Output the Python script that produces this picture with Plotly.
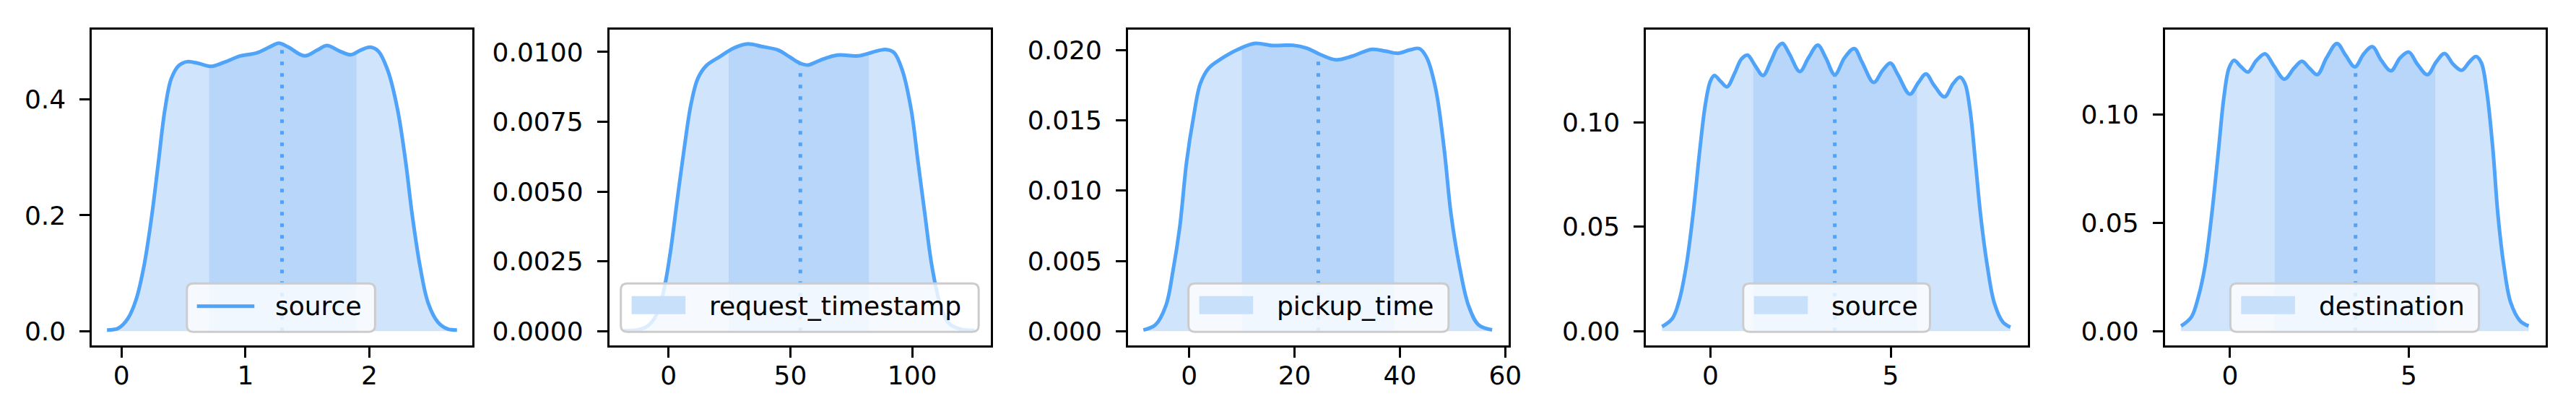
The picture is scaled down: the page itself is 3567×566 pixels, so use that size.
import plotly.graph_objects as go
import numpy as np

# ---------------- data ----------------
names = ["source", "request_timestamp", "pickup_time", "source", "destination"]

p1_x = [-0.117, -0.026, 0.052, 0.117, 0.181, 0.246, 0.298, 0.350, 0.402, 0.466, 0.531, 0.622, 0.725,
        0.829, 0.959, 1.088, 1.192, 1.269, 1.347, 1.477, 1.580, 1.658, 1.762, 1.852, 1.930, 2.008,
        2.073, 2.150, 2.228, 2.293, 2.345, 2.409, 2.474, 2.552, 2.630, 2.707]
p1_y = [0.002, 0.005, 0.022, 0.054, 0.112, 0.202, 0.292, 0.382, 0.436, 0.459, 0.465, 0.462, 0.457,
        0.464, 0.475, 0.480, 0.490, 0.497, 0.490, 0.475, 0.485, 0.493, 0.483, 0.477, 0.485, 0.490,
        0.483, 0.449, 0.382, 0.292, 0.202, 0.112, 0.049, 0.016, 0.004, 0.002]
p1_q = [0.707, 1.896]
p1_mean = 1.295

p2_x = [-18.4, -12.7, -8.5, -4.9, -2.1, 0.7, 3.5, 6.4, 9.2, 12.0, 15.5, 21.2, 26.8, 32.5, 38.1, 45.2,
        49.4, 53.7, 57.2, 62.1, 69.2, 77.7, 83.3, 89.0, 92.5, 96.0, 99.6, 102.4, 105.2, 108.1, 111.6,
        115.1, 120.1, 125.7]
p2_y = [0.00002, 0.00005, 0.00019, 0.0006, 0.0014, 0.0028, 0.00466, 0.00653, 0.00812, 0.00905,
        0.00951, 0.00984, 0.01014, 0.01029, 0.01020, 0.01006, 0.00984, 0.00961, 0.00953, 0.00970,
        0.00989, 0.00986, 0.00998, 0.01009, 0.00998, 0.00933, 0.00793, 0.00606, 0.00420, 0.00233,
        0.00093, 0.00028, 0.00007, 0.00003]
p2_q = [24.7, 82.2]
p2_mean = 54.1

p3_x = [-8.7, -6.4, -4.4, -3.1, -1.8, -0.5, 0.8, 2.1, 3.7, 6.0, 9.3, 12.5, 15.8, 19.7, 22.3, 24.9,
        27.9, 30.8, 34.7, 37.3, 39.6, 41.9, 43.7, 45.1, 46.8, 48.4, 49.7, 51.3, 53.0, 54.9, 57.5]
p3_y = [0.00009, 0.00046, 0.00185, 0.00426, 0.0074, 0.01204, 0.01519, 0.01759, 0.0187, 0.01935,
        0.02004, 0.02046, 0.02031, 0.02033, 0.02013, 0.01967, 0.0193, 0.01954, 0.02004, 0.01991,
        0.01976, 0.0200, 0.02009, 0.01944, 0.01722, 0.01296, 0.00833, 0.00463, 0.00185, 0.00046,
        0.00009]
p3_q = [10.0, 38.9]
p3_mean = 24.5

p4_x = [-1.34, -1.05, -0.86, -0.67, -0.48, -0.29, -0.14, 0.0, 0.11, 0.29, 0.46, 0.67, 0.86, 1.03,
        1.24, 1.46, 1.67, 1.86, 2.00, 2.19, 2.48, 2.72, 2.98, 3.20, 3.45, 3.72, 3.99, 4.20, 4.53,
        4.77, 4.99, 5.20, 5.53, 5.77, 5.98, 6.20, 6.49, 6.73, 6.92, 7.06, 7.20, 7.35, 7.49, 7.68,
        7.87, 8.11, 8.32]
p4_y = [0.0022, 0.0062, 0.015, 0.0312, 0.0561, 0.0873, 0.1085, 0.1197, 0.1224, 0.1195, 0.117,
        0.1234, 0.1303, 0.1322, 0.1272, 0.1224, 0.129, 0.1359, 0.1378, 0.1328, 0.1243, 0.1309,
        0.1369, 0.1309, 0.1228, 0.1309, 0.1353, 0.129, 0.1191, 0.1247, 0.1284, 0.1228, 0.1135,
        0.1191, 0.1232, 0.1178, 0.1122, 0.1185, 0.1216, 0.1185, 0.106, 0.081, 0.0561, 0.0312,
        0.0137, 0.0044, 0.0019]
p4_q = [1.19, 5.73]
p4_mean = 3.45

p5_x = [-1.37, -1.08, -0.89, -0.70, -0.51, -0.32, -0.17, -0.03, 0.11, 0.31, 0.50, 0.74, 0.98, 1.22,
        1.52, 1.79, 2.01, 2.22, 2.44, 2.70, 2.99, 3.23, 3.49, 3.74, 3.98, 4.23, 4.50, 4.76, 5.00,
        5.24, 5.52, 5.77, 6.00, 6.24, 6.48, 6.70, 6.88, 7.03, 7.18, 7.35, 7.49, 7.66, 7.85, 8.11,
        8.35]
p5_y = [0.0024, 0.0066, 0.0156, 0.030, 0.0541, 0.0841, 0.1082, 0.1214, 0.125, 0.122, 0.1196, 0.125,
        0.128, 0.1226, 0.1163, 0.1214, 0.1246, 0.1214, 0.1184, 0.1262, 0.1328, 0.1274, 0.122, 0.128,
        0.1313, 0.125, 0.1202, 0.1262, 0.1288, 0.1232, 0.1184, 0.1244, 0.1282, 0.1232, 0.1204,
        0.1244, 0.1268, 0.1238, 0.1106, 0.0841, 0.0541, 0.030, 0.0132, 0.0048, 0.0024]
p5_q = [1.25, 5.74]
p5_mean = 3.51

# axis settings per panel
x_ranges = [[-0.238, 2.829], [-24.3, 132.3], [-11.6, 60.7], [-1.78, 8.80], [-1.82, 8.83]]
y_ranges = [[-0.0247, 0.5204], [-0.000513, 0.010802], [-0.001019, 0.021444],
            [-0.00686, 0.1444], [-0.0066, 0.1392]]
x_dticks = [1, 50, 20, 5, 5]
y_dticks = [0.2, 0.0025, 0.005, 0.05, 0.05]
y_formats = [".1f", ".4f", ".3f", ".2f", ".2f"]
legend_is_line = [True, False, False, False, False]

# ---------------- style / layout (pixels) ----------------
W, H = 3567, 566
LINE = "#4fa3f8"
LIGHT = "#d0e4fb"
DARK = "#b7d6f9"
PATCH = "#c9e0fa"
FONT = "DejaVu Sans"
FS = 36

box_px = [(120, 649), (840, 1371), (1562, 2092), (2283, 2814), (3005, 3535)]
top_px, bot_px = 33, 471
ydom = [1 - bot_px / H, 1 - top_px / H]
# legend boxes (left, right) in px, shared top / bottom
leg_px = [(252, 514), (856, 1354), (1646, 2008), (2418, 2678), (3096, 3442)]
leg_top, leg_bot = 385, 452


def px(x):
    return x / W


def py(y):
    return 1 - y / H


panels = [(p1_x, p1_y, p1_q, p1_mean), (p2_x, p2_y, p2_q, p2_mean), (p3_x, p3_y, p3_q, p3_mean),
          (p4_x, p4_y, p4_q, p4_mean), (p5_x, p5_y, p5_q, p5_mean)]

fig = go.Figure()
layout = dict(width=W, height=H, margin=dict(l=0, r=0, t=0, b=0),
              paper_bgcolor="white", plot_bgcolor="white",
              font=dict(family=FONT, size=FS, color="black"), showlegend=False)
shapes = []
annotations = []

for i, (xs, ys, q, mu) in enumerate(panels):
    k = "" if i == 0 else str(i + 1)
    xa, ya = "x" + k, "y" + k
    xs = np.array(xs)
    ys = np.array(ys)
    # full light fill
    fig.add_trace(go.Scatter(x=xs, y=ys, mode="lines", line=dict(width=0, shape="spline", color=LIGHT),
                             fill="tozeroy", fillcolor=LIGHT, xaxis=xa, yaxis=ya, hoverinfo="skip"))
    # inter-quartile band
    q1y = float(np.interp(q[0], xs, ys))
    q3y = float(np.interp(q[1], xs, ys))
    m = (xs > q[0]) & (xs < q[1])
    bx = np.concatenate([[q[0]], xs[m], [q[1]]])
    by = np.concatenate([[q1y], ys[m], [q3y]])
    fig.add_trace(go.Scatter(x=bx, y=by, mode="lines", line=dict(width=0, shape="spline", color=DARK),
                             fill="tozeroy", fillcolor=DARK, xaxis=xa, yaxis=ya, hoverinfo="skip"))
    # mean dotted line
    my = float(np.interp(mu, xs, ys))
    fig.add_trace(go.Scatter(x=[mu, mu], y=[0, my], mode="lines",
                             line=dict(color=LINE, width=5, dash="5px,11px"),
                             xaxis=xa, yaxis=ya, hoverinfo="skip"))
    # density curve
    fig.add_trace(go.Scatter(x=xs, y=ys, mode="lines", line=dict(color=LINE, width=5, shape="spline"),
                             xaxis=xa, yaxis=ya, name=names[i]))

    x0, x1 = box_px[i]
    common = dict(showline=True, linecolor="black", linewidth=3, mirror=True, ticks="outside",
                  ticklen=14, tickwidth=3, tickcolor="black", showgrid=False, zeroline=False,
                  tickfont=dict(family=FONT, size=FS, color="black"))
    layout["xaxis" + k] = dict(domain=[px(x0), px(x1)], range=x_ranges[i], anchor=ya,
                               tick0=0, dtick=x_dticks[i], ticklabelstandoff=-6, **common)
    layout["yaxis" + k] = dict(domain=ydom, range=y_ranges[i], anchor=xa,
                               tick0=0, dtick=y_dticks[i], tickformat=y_formats[i],
                               ticklabelstandoff=12, **common)

    # legend box (rounded, semi-transparent)
    lx0, lx1 = leg_px[i]
    r = 9
    path = (f"M {px(lx0 + r)},{py(leg_top)} L {px(lx1 - r)},{py(leg_top)} "
            f"Q {px(lx1)},{py(leg_top)} {px(lx1)},{py(leg_top + r)} "
            f"L {px(lx1)},{py(leg_bot - r)} Q {px(lx1)},{py(leg_bot)} {px(lx1 - r)},{py(leg_bot)} "
            f"L {px(lx0 + r)},{py(leg_bot)} Q {px(lx0)},{py(leg_bot)} {px(lx0)},{py(leg_bot - r)} "
            f"L {px(lx0)},{py(leg_top + r)} Q {px(lx0)},{py(leg_top)} {px(lx0 + r)},{py(leg_top)} Z")
    shapes.append(dict(type="path", xref="paper", yref="paper", path=path, layer="above",
                       fillcolor="rgba(255,255,255,0.8)", line=dict(color="#cccccc", width=3)))
    ymid = (leg_top + leg_bot) / 2
    if legend_is_line[i]:
        shapes.append(dict(type="line", xref="paper", yref="paper", layer="above",
                           x0=px(lx0 + 14), x1=px(lx0 + 94), y0=py(ymid - 2), y1=py(ymid - 2),
                           line=dict(color=LINE, width=5)))
    else:
        shapes.append(dict(type="rect", xref="paper", yref="paper", layer="above",
                           x0=px(lx0 + 15), x1=px(lx0 + 90), y0=py(ymid + 9), y1=py(ymid - 16),
                           fillcolor=PATCH, line=dict(width=0)))
    annotations.append(dict(text=names[i], xref="paper", yref="paper", x=px(lx0 + 121), y=py(ymid - 2),
                            xanchor="left", yanchor="middle", showarrow=False,
                            font=dict(family=FONT, size=FS, color="black")))

layout["shapes"] = shapes
layout["annotations"] = annotations
fig.update_layout(**layout)
fig.write_html("out.html")
